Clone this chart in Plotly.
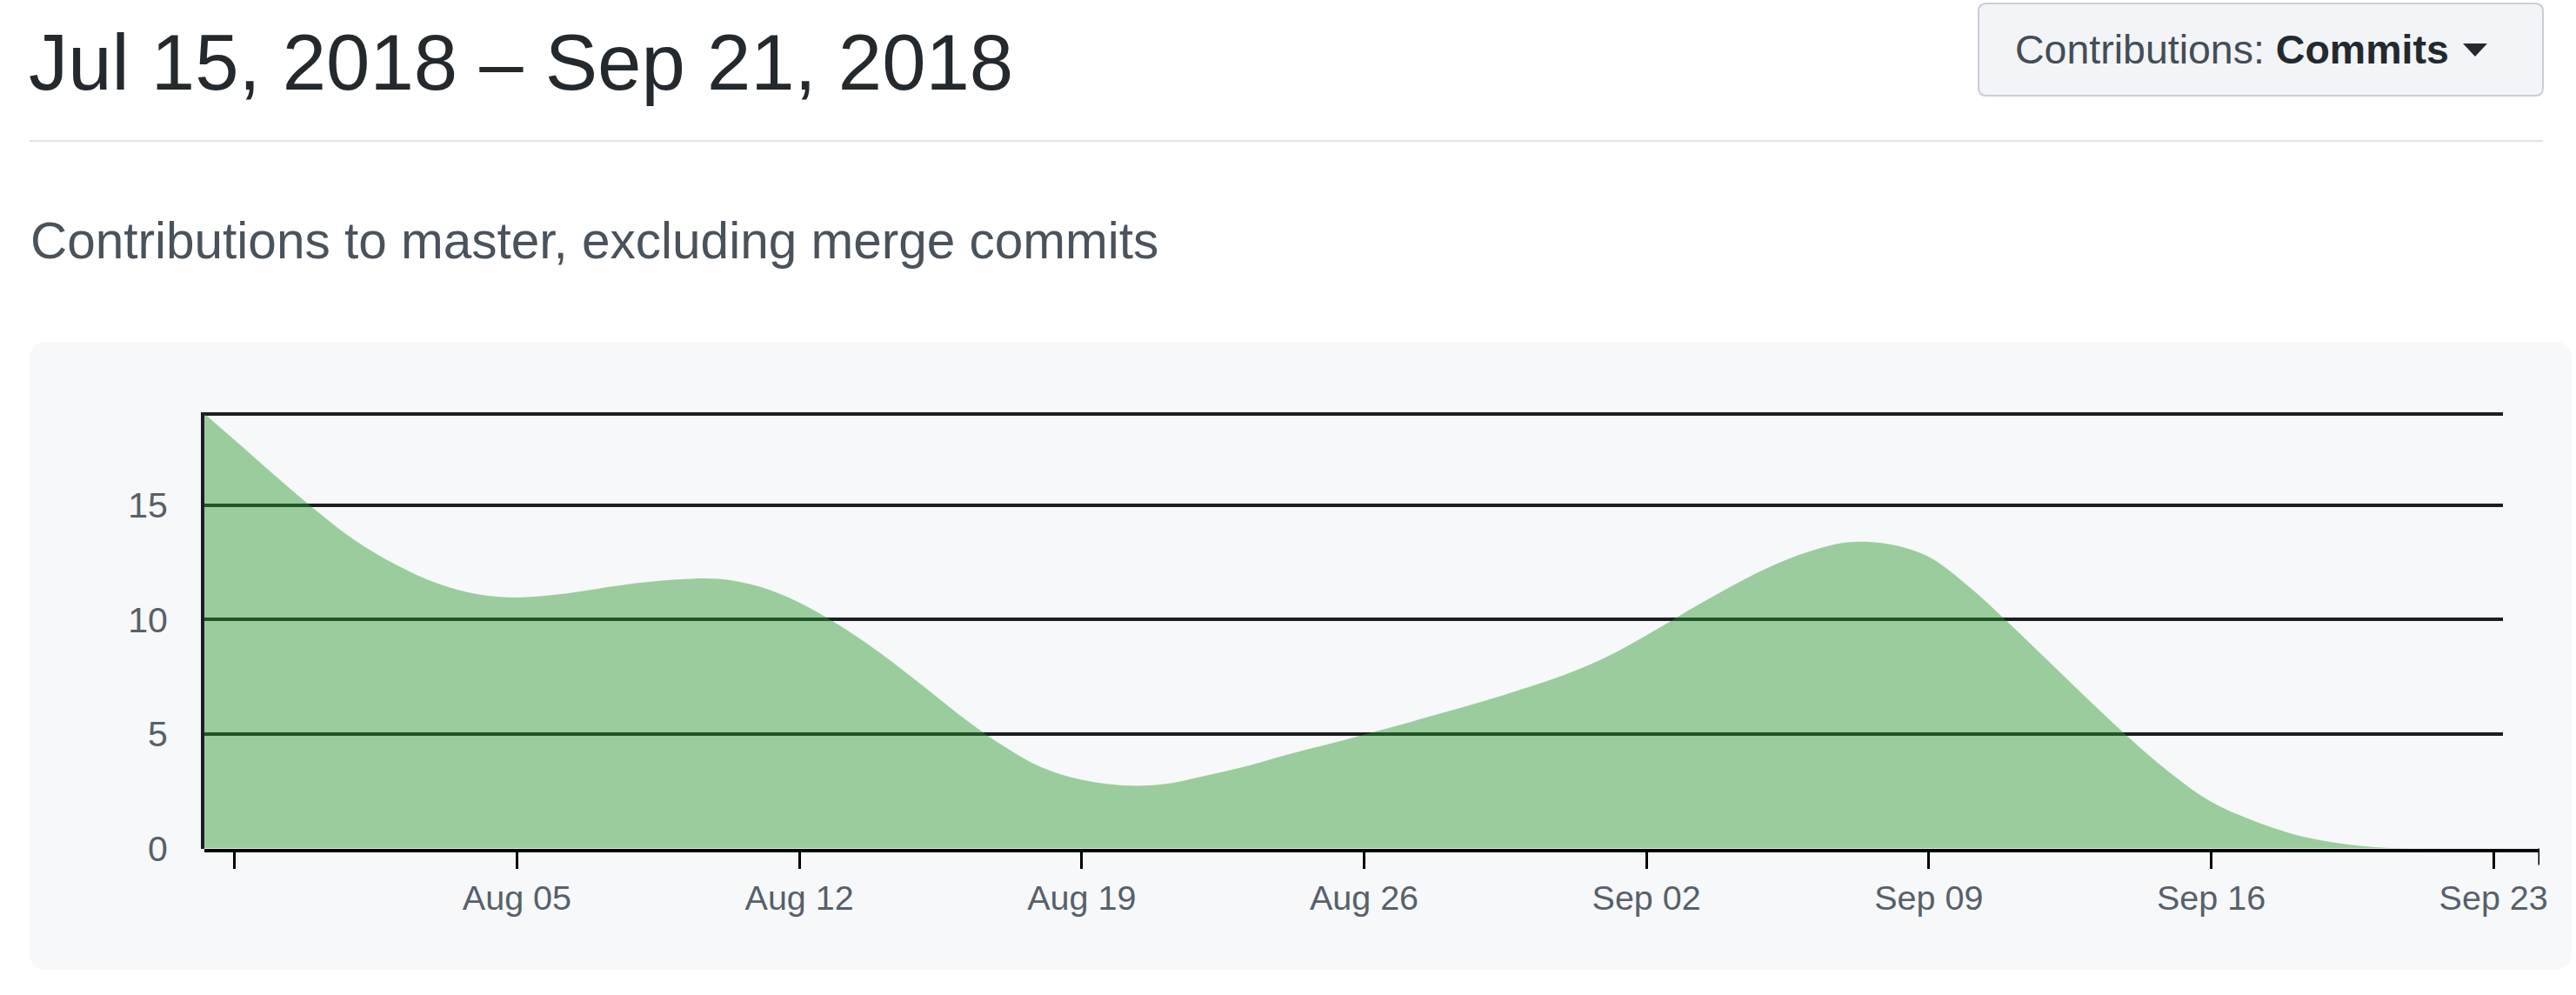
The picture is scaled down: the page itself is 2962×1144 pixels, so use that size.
import plotly.graph_objects as go

# ---------------- data ----------------
DATES = (["2018-07-28 06:00"]
         + [f"2018-07-{d:02d}" for d in range(29, 32)]
         + [f"2018-08-{d:02d}" for d in range(1, 32)]
         + [f"2018-09-{d:02d}" for d in range(1, 23)]
         + ["2018-09-23 06:00"])
COMMITS = [19.0,
           17.85, 16.3, 14.8,
           13.45, 12.4, 11.6, 11.12, 10.97, 11.1, 11.35, 11.6, 11.76, 11.78,
           11.45, 10.75, 9.75, 8.55, 7.2, 5.8, 4.55, 3.55, 3.0, 2.76,
           2.8, 3.15, 3.55, 4.05, 4.5, 4.97, 5.45, 5.95, 6.45, 7.0, 7.6,
           8.35, 9.3, 10.35, 11.35, 12.25, 12.95, 13.38, 13.3, 12.75, 11.45,
           9.85, 8.15, 6.45, 4.8, 3.3, 2.05, 1.25, 0.65, 0.28, 0.07, 0.0, 0.0,
           0.0]

X_TICK_VALUES = ["2018-07-29", "2018-08-05", "2018-08-12", "2018-08-19",
                 "2018-08-26", "2018-09-02", "2018-09-09", "2018-09-16",
                 "2018-09-23"]
X_TICK_LABELS = ["", "Aug 05", "Aug 12", "Aug 19", "Aug 26", "Sep 02",
                 "Sep 09", "Sep 16", "Sep 23"]
Y_TICK_VALUES = [0, 5, 10, 15, 19]
Y_TICK_LABELS = ["0", "5", "10", "15", ""]

X_START = "2018-07-28 06:00"
X_GRID_END = "2018-09-23 06:00"
X_AXIS_END = "2018-09-24 03:20"
Y_RANGE = [0, 19.06]

TITLE = "Jul 15, 2018 \u2013 Sep 21, 2018"
SUBTITLE = "Contributions to master, excluding merge commits"
BUTTON_TEXT = "Contributions: <b style='color:#24292e'>Commits</b>"

# ---------------- geometry helpers ----------------
W, H = 2962, 1144
FONT = "Liberation Sans, Arial, Helvetica, sans-serif"


def px(x):
    return x / W


def py(y):
    return 1 - y / H


def rounded_rect(x0, y0, x1, y1, r):
    rx, ry = r / W, r / H
    X0, X1 = px(x0), px(x1)
    Y0, Y1 = py(y0), py(y1)  # Y0 top, Y1 bottom (paper)
    return (f"M{X0 + rx},{Y0} L{X1 - rx},{Y0} Q{X1},{Y0} {X1},{Y0 - ry} "
            f"L{X1},{Y1 + ry} Q{X1},{Y1} {X1 - rx},{Y1} "
            f"L{X0 + rx},{Y1} Q{X0},{Y1} {X0},{Y1 + ry} "
            f"L{X0},{Y0 - ry} Q{X0},{Y0} {X0 + rx},{Y0} Z")


PLOT_L, PLOT_GRID_R, PLOT_AXIS_R = 235, 2878, 2920
PLOT_T, PLOT_B = 474.1, 975.5

fig = go.Figure()
fig.add_trace(go.Scatter(
    x=DATES, y=COMMITS, mode="lines",
    line=dict(shape="spline", smoothing=1, width=0, color="rgba(44,150,44,0.45)"),
    fill="tozeroy", fillcolor="rgba(44,150,44,0.45)",
    xaxis="x", yaxis="y", hoverinfo="skip", showlegend=False))

# invisible helper trace so the axis-only subplot renders
fig.add_trace(go.Scatter(x=[X_START], y=[0], mode="markers",
                         marker=dict(opacity=0), xaxis="x2", yaxis="y2",
                         hoverinfo="skip", showlegend=False))

fig.update_layout(
    width=W, height=H, autosize=False,
    margin=dict(l=0, r=0, t=0, b=0, pad=0, autoexpand=False),
    paper_bgcolor="white", plot_bgcolor="rgba(0,0,0,0)",
    font=dict(family=FONT),
    xaxis=dict(domain=[px(PLOT_L), px(PLOT_GRID_R)], range=[X_START, X_GRID_END],
               visible=False, type="date", anchor="y", fixedrange=True,
               automargin=False),
    yaxis=dict(domain=[py(PLOT_B), py(PLOT_T)], range=Y_RANGE, anchor="x",
               tickvals=Y_TICK_VALUES, ticktext=Y_TICK_LABELS, automargin=False,
               showgrid=True, gridcolor="#1b1f23", gridwidth=3.5,
               zeroline=False, showline=True, linecolor="#1b1f23", linewidth=4,
               layer="below traces", ticks="", ticklabelstandoff=30,
               tickfont=dict(size=41, color="#586069", family=FONT)),
    xaxis2=dict(domain=[px(PLOT_L), px(PLOT_AXIS_R)], range=[X_START, X_AXIS_END],
                type="date", anchor="y2", tickvals=X_TICK_VALUES, automargin=False,
                ticktext=X_TICK_LABELS, showgrid=False, zeroline=False,
                showline=True, linecolor="#000000", linewidth=4,
                ticks="outside", ticklen=19, tickwidth=3, tickcolor="#000000",
                layer="above traces", ticklabelstandoff=0,
                tickfont=dict(size=39.5, color="#586069", family=FONT)),
    yaxis2=dict(domain=[py(PLOT_B), py(PLOT_T)], range=Y_RANGE, anchor="x2",
                visible=False, automargin=False),
)

# end-of-axis outer tick (d3 style)
fig.add_shape(type="line", xref="x2", yref="paper", x0=X_AXIS_END, x1=X_AXIS_END,
              y0=py(PLOT_B), y1=py(PLOT_B + 19), line=dict(color="#000", width=3))

shapes = [
    # chart container
    dict(type="path", path=rounded_rect(34, 393, 2957, 1115, 20), xref="paper",
         yref="paper", fillcolor="#f6f8fa", line=dict(width=0), layer="below"),
    # header rule
    dict(type="line", xref="paper", yref="paper", x0=px(34), x1=px(2924),
         y0=py(162), y1=py(162), line=dict(color="#e1e4e8", width=2), layer="below"),
    # button
    dict(type="path", path=rounded_rect(2275, 4, 2924, 110, 9), xref="paper",
         yref="paper", fillcolor="#f2f4f7", line=dict(color="#c9ced4", width=2),
         layer="below"),
    # button caret
    dict(type="path", xref="paper", yref="paper",
         path=f"M{px(2832)},{py(50)} L{px(2860)},{py(50)} L{px(2846)},{py(65)} Z",
         fillcolor="#24292e", line=dict(width=0)),
]
for s in shapes:
    fig.add_shape(**s)

fig.add_annotation(text=TITLE, xref="paper", yref="paper", x=px(31), y=py(72),
                   xanchor="left", yanchor="middle", showarrow=False,
                   font=dict(size=90.5, color="#24292e", family=FONT))
fig.add_annotation(text=SUBTITLE, xref="paper", yref="paper", x=px(33), y=py(276),
                   xanchor="left", yanchor="middle", showarrow=False,
                   font=dict(size=58.5, color="#4a535c", family=FONT))
fig.add_annotation(text=BUTTON_TEXT, xref="paper", yref="paper", x=px(2566), y=py(57),
                   xanchor="center", yanchor="middle", showarrow=False,
                   font=dict(size=46.5, color="#444d56", family=FONT))

fig.write_html("out.html", config={"displayModeBar": False})
